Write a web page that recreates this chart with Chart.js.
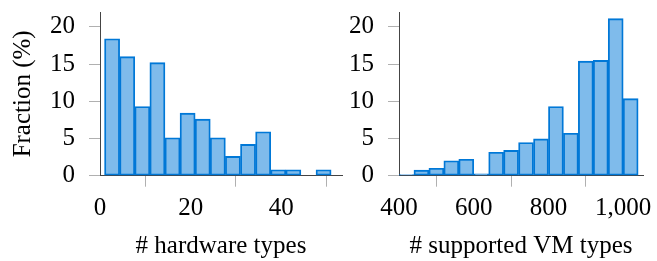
<!DOCTYPE html>
<html>
<head>
<meta charset="utf-8">
<script src="https://cdn.jsdelivr.net/npm/chart.js@4.4.1/dist/chart.umd.min.js"></script>
<style>
  html, body { margin: 0; padding: 0; background: #fff; }
  #wrap { position: relative; width: 657px; height: 261px; }
  #wrap canvas { position: absolute; left: 0; top: 0; }
</style>
</head>
<body>
<div id="wrap">
  <canvas id="hwChart" width="657" height="261"></canvas>
  <canvas id="vmChart" width="657" height="261"></canvas>
</div>
<script>
// Histogram data (bin centres, fraction in %)
const hwBinCenters = [2.667, 6, 9.333, 12.667, 16, 19.333, 22.667, 26, 29.333, 32.667, 36, 39.333, 42.667, 46, 49.333];
const hwFraction = [18.4, 16.0, 9.3, 15.2, 5.1, 8.4, 7.6, 5.1, 2.6, 4.2, 5.9, 0.8, 0.8, 0, 0.8];

const vmBinCenters = [420, 460, 500, 540, 580, 620, 660, 700, 740, 780, 820, 860, 900, 940, 980, 1020];
const vmFraction = [0.15, 0.75, 1.0, 2.0, 2.2, 0.25, 3.15, 3.4, 4.45, 4.95, 9.3, 5.7, 15.4, 15.5, 21.1, 10.35];

const yTicks = [0, 5, 10, 15, 20];
const hwTicks = [0, 20, 40];
const vmTicks = [400, 600, 800, 1000];

const FONT = '"Liberation Serif", "Times New Roman", serif';
Chart.defaults.font.family = FONT;
Chart.defaults.font.size = 25;
Chart.defaults.color = '#000';

const fill = 'rgba(0, 120, 215, 0.5)';
const edge = 'rgb(0, 120, 215)';

function histogram(id, centers, values, opts) {
  const ctx = document.getElementById(id).getContext('2d');
  return new Chart(ctx, {
    type: 'bar',
    data: {
      datasets: [{
        data: centers.map((c, i) => ({ x: c, y: values[i] })),
        backgroundColor: fill,
        borderColor: edge,
        borderWidth: 1.2,
        borderSkipped: false,
        barPercentage: 1,
        categoryPercentage: 1
      }]
    },
    options: {
      responsive: false,
      animation: false,
      layout: { padding: opts.padding },
      plugins: { legend: { display: false }, tooltip: { enabled: false } },
      scales: {
        x: {
          type: 'linear',
          offset: false,
          min: opts.xmin,
          max: opts.xmax,
          afterBuildTicks: s => { s.ticks = opts.xTicks.map(v => ({ value: v })); },
          afterFit: s => { s.height = 85.3; s.paddingLeft = 0; s.paddingRight = 0; },
          grid: { drawOnChartArea: false, drawTicks: true, tickLength: 11, tickColor: '#b0b0b0' },
          border: { color: '#444', width: 1 },
          ticks: {
            color: '#000',
            padding: 7,
            maxRotation: 0,
            font: { family: FONT, size: 25 },
            callback: v => v.toLocaleString('en-US')
          },
          title: {
            display: true,
            text: opts.xTitle,
            color: '#000',
            font: { family: FONT, size: 25 },
            padding: { top: 0, bottom: 0 }
          }
        },
        y: {
          min: 0,
          max: 22,
          afterBuildTicks: s => { s.ticks = yTicks.map(v => ({ value: v })); },
          afterFit: s => { s.width = opts.yWidth; s.paddingTop = 0; s.paddingBottom = 0; },
          grid: { drawOnChartArea: false, drawTicks: true, tickLength: 11, tickColor: '#b0b0b0' },
          border: { color: '#444', width: 1 },
          ticks: { color: '#000', padding: 14, font: { family: FONT, size: 25 } },
          title: {
            display: !!opts.yTitle,
            text: opts.yTitle || '',
            color: '#000',
            font: { family: FONT, size: 25 },
            padding: { top: 8, bottom: 0 }
          }
        }
      }
    }
  });
}

histogram('hwChart', hwBinCenters, hwFraction, {
  padding: { left: 0, right: 315, top: 12, bottom: 0 },
  yWidth: 100,
  xmin: 0, xmax: 53.4,
  xTicks: hwTicks,
  xTitle: '# hardware types',
  yTitle: 'Fraction (%)'
});

histogram('vmChart', vmBinCenters, vmFraction, {
  padding: { left: 330, right: 14, top: 12, bottom: 0 },
  yWidth: 69,
  xmin: 400, xmax: 1053,
  xTicks: vmTicks,
  xTitle: '# supported VM types'
});
</script>
</body>
</html>
